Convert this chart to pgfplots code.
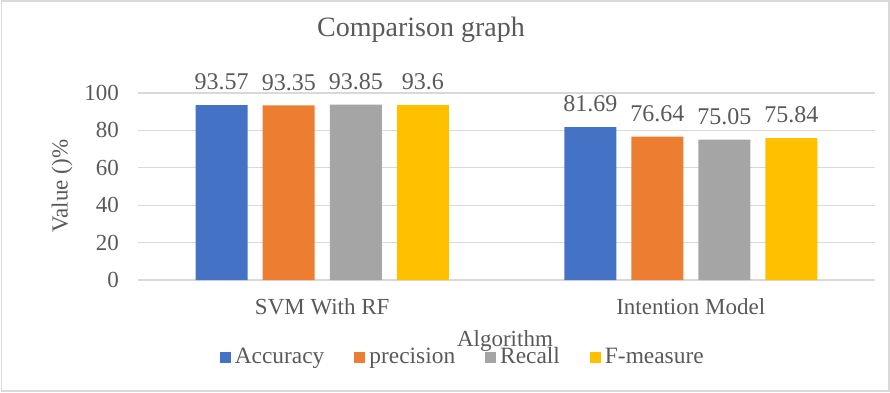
\documentclass[border=0pt]{standalone}
\usepackage{fontspec}
\setmainfont{Liberation Serif}
\usepackage{pgfplots}
\pgfplotsset{compat=1.18}
\definecolor{cA}{HTML}{4472C4}
\definecolor{cP}{HTML}{ED7D31}
\definecolor{cR}{HTML}{A5A5A5}
\definecolor{cF}{HTML}{FFC000}
\definecolor{txt}{HTML}{595959}
\definecolor{grd}{HTML}{D9D9D9}
\begin{document}
\begin{tikzpicture}
\path[use as bounding box] (0,0) rectangle (445pt,196pt);
\draw[grd, line width=0.6pt] (0.8pt,0.5pt) rectangle (444.5pt,195.5pt);
\begin{axis}[
  at={(69pt,56pt)}, anchor=south west,
  scale only axis, width=368.5pt, height=93.5pt,
  xmin=-0.5, xmax=1.5, ymin=0, ymax=100,
  ybar=7.5pt, bar width=26pt,
  xtick={0,1}, xticklabels={SVM With RF, Intention Model},
  ytick={0,20,40,60,80,100},
  major tick length=0pt,
  axis line style={draw=none},
  ymajorgrids, grid style={grd, line width=0.6pt},
  /pgf/number format/assume math mode=true,
  xticklabel style={font=\fontsize{11.5}{13}\selectfont, text=txt, yshift=-5.5pt},
  yticklabel style={font=\fontsize{11.5}{13}\selectfont, text=txt, xshift=-6pt},
  nodes near coords,
  every node near coord/.append style={font=\fontsize{12}{14}\selectfont, text=txt, yshift=4pt},
  legend columns=4,
  legend style={at={(0.442,-0.412)}, anchor=center, draw=none, fill=none,
    font=\fontsize{11.7}{13}\selectfont, text=txt,
    nodes={inner xsep=2pt, inner ysep=1pt},
    /tikz/every even column/.append style={column sep=13pt}},
  legend image code/.code={\fill[#1] (0pt,-2.75pt) rectangle (5.5pt,2.75pt);},
]
\addplot[fill=cA, draw=none] coordinates {(0,93.57) (1,81.69)};
\addplot[fill=cP, draw=none] coordinates {(0,93.35) (1,76.64)};
\addplot[fill=cR, draw=none] coordinates {(0,93.85) (1,75.05)};
\addplot[fill=cF, draw=none] coordinates {(0,93.6) (1,75.84)};
\legend{Accuracy, precision, Recall, F-measure}
\end{axis}
\node[text=txt, font=\fontsize{14}{16}\selectfont] at (210.5pt,181pt) {Comparison graph};
\node[text=txt, font=\fontsize{11.5}{13}\selectfont] at (252.5pt,25.5pt) {Algorithm};
\node[text=txt, font=\fontsize{11.5}{13}\selectfont, rotate=90] at (31pt,103pt) {Value ()\%};
\end{tikzpicture}
\end{document}
